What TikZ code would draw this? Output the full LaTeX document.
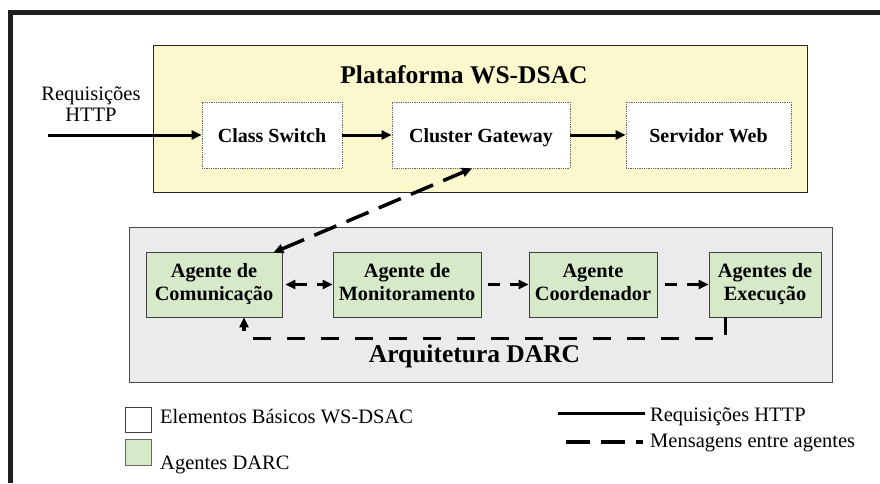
\documentclass[tikz,border=0pt]{standalone}
\usepackage{fontspec}
\setmainfont{Liberation Serif}
\usetikzlibrary{arrows.meta,shapes,positioning,calc}
\definecolor{platyellow}{RGB}{250,248,204}
\definecolor{darcgray}{RGB}{235,235,237}
\definecolor{agentgreen}{RGB}{214,233,201}

\begin{document}
\begin{tikzpicture}[
    x=1pt, y=-1pt,
    >={Triangle[length=10pt,width=9pt]},
    wsbox/.style={rectangle, draw=black!60, densely dotted, line width=0.8pt, fill=white,
                  minimum height=66pt, inner sep=0pt, text height=16pt, text depth=2pt,
                  font=\fontsize{20}{23}\selectfont\bfseries},
    agent/.style={rectangle, draw=black!75, line width=0.8pt, fill=agentgreen,
                  minimum height=65pt, inner sep=0pt, align=center, text depth=5pt,
                  font=\fontsize{20.3}{22.7}\selectfont\bfseries},
    area/.style={rectangle, inner sep=0pt},
    areatitle/.style={inner sep=0pt, anchor=base, font=\fontsize{25.5}{28}\selectfont\bfseries},
    lbltext/.style={inner sep=0pt, font=\fontsize{20.5}{21.7}\selectfont},
    http/.style={line width=3pt, ->},
    msg/.style={line width=3.5pt, dash pattern=on 24pt off 11pt}
]
    \useasboundingbox (0,0) rectangle (880,483);

    % Frame
    \draw[line width=4.5pt, black!88] (10.5,483) -- (10.5,12.5) -- (880,12.5);

    % Plataforma WS-DSAC
    \node[area, draw=black!85, line width=1pt, fill=platyellow,
          minimum width=654pt, minimum height=147pt] (plat) at (480,118.5) {};
    \node[areatitle] (plattitle) at (464,83) {Plataforma WS-DSAC};
    \node[wsbox, minimum width=140pt] (cs) at (272,135) {Class Switch};
    \node[wsbox, minimum width=178pt] (cg) at (481,135) {Cluster Gateway};
    \node[wsbox, minimum width=165pt] (sw) at (708.5,135) {Servidor Web};

    \node[lbltext, align=center] (req) at (91,104) {Requisições\\HTTP};
    \coordinate (reqin) at (48,135);
    \draw[http] (reqin) -- (cs.west);
    \draw[http] (cs) -- (cg);
    \draw[http] (cg) -- (sw);

    % Arquitetura DARC
    \node[area, draw=black!70, line width=1pt, fill=darcgray,
          minimum width=703pt, minimum height=155pt] (darc) at (480.5,304.5) {};
    \node[areatitle] (darctitle) at (474.5,362.5) {Arquitetura DARC};
    \node[agent, minimum width=136pt] (com) at (214,284.5) {Agente de\\Comunicação};
    \node[agent, minimum width=148pt] (mon) at (407,284.5) {Agente de\\Monitoramento};
    \node[agent, minimum width=128pt] (coo) at (593,284.5) {Agente\\Coordenador};
    \node[agent, minimum width=112pt] (exe) at (765,284.5) {Agentes de\\Execução};

    \draw[msg, <->] ($(com.north east)+(-9,1)$) -- ($(cg.south)+(-9,0)$);
    \draw[msg, dash pattern=on 12pt off 10pt, <->, shorten <=3pt] (com) -- (mon);
    \draw[msg, dash pattern=on 12pt off 10pt, ->, shorten <=7pt] (mon) -- (coo);
    \draw[msg, dash pattern=on 12pt off 10pt, ->, shorten <=8pt] (coo) -- (exe);
    \draw[msg, dash pattern=on 18pt off 16pt, ->]
        ([xshift=17pt]exe.south west) -- ++(0,21) -| ([xshift=30pt]com.south);

    % Legend
    \node[area, draw=black!75, line width=0.8pt, fill=white,
          minimum width=26pt, minimum height=25pt] (lgws) at (138,419.5) {};
    \node[lbltext, anchor=base west] (lgwstxt) at (160,423) {Elementos Básicos WS-DSAC};
    \node[area, draw=black!60, line width=0.8pt, fill=agentgreen,
          minimum width=26pt, minimum height=26pt] (lgag) at (138,452) {};
    \node[lbltext, anchor=base west] (lgagtxt) at (160,469) {Agentes DARC};

    \coordinate (lghttpa) at (558,413);
    \coordinate (lghttpb) at (645,413);
    \draw[line width=3pt] (lghttpa) -- (lghttpb);
    \node[lbltext, anchor=base west] (lghttptxt) at (650,421.5) {Requisições HTTP};

    \coordinate (lgmsga) at (566,442);
    \coordinate (lgmsgb) at (643,442);
    \draw[msg] (lgmsga) -- (lgmsgb);
    \node[lbltext, anchor=base west] (lgmsgtxt) at (650,447) {Mensagens entre agentes};
\end{tikzpicture}
\end{document}
